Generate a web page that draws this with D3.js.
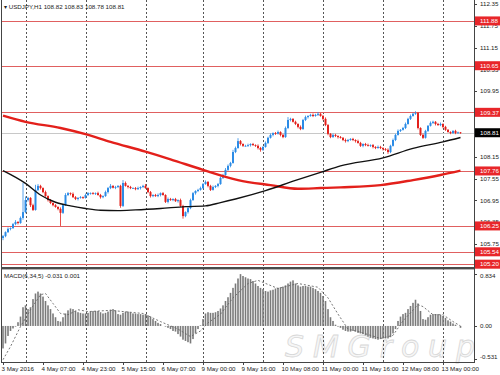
<!DOCTYPE html>
<html>
<head>
<meta charset="utf-8">
<script src="https://cdnjs.cloudflare.com/ajax/libs/d3/7.8.5/d3.min.js"></script>
<style>
  body { margin: 0; background: #fff; }
  svg { display: block; }
  text { font-family: "Liberation Sans", Arial, sans-serif; }
</style>
</head>
<body>
<script>
const firstOpen = 105.92;
const closes = [
  105.97,106.08,106.17,106.19,106.30,106.36,106.33,106.47,106.63,106.96,
  107.02,106.82,106.69,107.24,107.35,107.29,107.18,107.07,106.96,106.88,
  106.82,106.77,106.72,106.61,106.82,107.10,107.15,107.13,107.04,106.99,
  107.02,107.04,107.02,107.10,107.15,107.15,107.13,107.15,107.10,107.04,
  107.07,107.18,107.29,107.35,107.30,107.32,107.35,106.80,107.43,107.35,
  107.32,107.29,107.29,107.26,107.29,107.32,107.35,107.29,107.18,107.07,
  107.10,107.07,107.10,107.15,107.10,106.91,106.99,106.96,106.99,106.93,
  106.96,106.80,106.52,106.63,106.74,106.96,107.15,107.21,107.24,107.29,
  107.40,107.46,107.35,107.24,107.32,107.35,107.40,107.57,107.65,107.79,
  107.90,107.98,108.28,108.39,108.58,108.50,108.45,108.45,108.47,108.50,
  108.47,108.45,108.39,108.34,108.42,108.53,108.67,108.75,108.80,108.78,
  108.83,108.75,108.69,108.94,109.16,109.19,109.11,109.05,108.97,108.91,
  109.16,109.24,109.27,109.30,109.27,109.30,109.33,109.27,109.19,109.02,
  108.78,108.69,108.75,108.72,108.69,108.67,108.61,108.58,108.61,108.64,
  108.61,108.58,108.53,108.45,108.50,108.47,108.45,108.47,108.42,108.39,
  108.42,108.39,108.36,108.34,108.28,108.45,108.61,108.75,108.86,108.89,
  108.94,109.05,109.19,109.27,109.33,109.35,108.94,108.75,108.67,108.86,
  109.00,109.08,109.11,109.05,109.02,109.05,108.97,108.89,108.83,108.80,
  108.86,108.80,108.82,108.81
];
// wick length above / below the body, in pips (0.01)
const wickHi = [
  3,2,4,2,3,5,2,4,80,10,3,2,4,14,5,3,2,4,2,3,
  2,3,2,4,3,5,3,2,4,3,2,3,2,4,3,2,3,2,4,3,
  2,4,3,5,2,3,2,3,8,4,2,3,2,3,4,2,3,5,2,3,
  2,3,4,2,3,2,4,3,2,3,2,4,3,2,3,4,3,2,3,4,
  3,4,2,3,4,2,3,4,3,5,4,3,6,4,8,3,2,3,4,2,
  3,2,4,3,2,4,3,4,2,3,4,2,3,4,8,3,2,3,2,4,
  3,4,2,3,4,3,5,2,3,4,3,2,4,3,2,3,2,4,3,2,
  3,2,4,3,2,3,4,2,3,2,4,3,2,3,4,3,4,3,4,2,
  3,4,3,4,3,5,3,2,4,3,2,4,3,2,3,4,2,3,2,2,
  2,3,2,1
];
const wickLo = [
  6,3,2,4,2,3,4,2,5,3,4,5,3,2,3,4,3,2,4,3,
  3,2,4,36,3,2,3,4,2,3,4,2,3,2,3,4,2,3,2,4,
  3,2,4,3,2,4,3,5,3,2,4,3,2,3,2,4,3,2,3,4,
  3,2,3,4,2,3,4,2,3,2,4,3,7,3,4,3,2,4,3,2,
  3,2,4,3,2,3,4,2,3,2,3,4,2,3,2,4,3,2,3,4,
  2,3,4,5,3,2,3,2,4,3,2,4,3,2,3,4,2,3,4,3,
  2,3,4,2,3,2,3,2,4,3,4,3,2,3,4,2,3,4,3,2,
  3,4,2,3,4,3,2,3,4,3,2,3,4,3,5,3,2,3,2,3,
  2,3,2,3,2,3,4,3,3,2,3,2,3,4,2,3,4,3,2,3,
  2,3,2,3
];

// moving averages, read at bar indices
const redMaIdx = [0, 9, 23, 33, 43, 57, 67, 80, 94, 107, 118, 127, 135, 151, 164, 175, 183];
const redMaVal = [109.28, 109.11, 108.94, 108.77, 108.56, 108.29, 108.08, 107.79, 107.51, 107.37, 107.27, 107.29, 107.31, 107.37, 107.51, 107.65, 107.77];
const blackMaIdx = [0, 9, 15, 21, 27, 33, 39, 46, 53, 63, 73, 81, 87, 93, 105, 117, 127, 135, 152, 164, 176, 183];
const blackMaVal = [107.77, 107.42, 107.10, 106.90, 106.80, 106.73, 106.68, 106.67, 106.69, 106.73, 106.78, 106.80, 106.89, 106.99, 107.22, 107.50, 107.72, 107.90, 108.12, 108.38, 108.56, 108.68];

// MACD(6,34,5)
const macdHist = [
  -0.36,-0.28,-0.16,-0.08,-0.04,-0.01,0.06,0.15,0.30,0.33,
  0.27,0.30,0.43,0.52,0.55,0.52,0.47,0.40,0.33,0.27,
  0.20,0.14,0.08,0.07,0.14,0.20,0.25,0.28,0.27,0.24,
  0.22,0.21,0.20,0.20,0.21,0.23,0.24,0.24,0.24,0.22,
  0.20,0.21,0.23,0.26,0.27,0.25,0.19,0.18,0.21,0.23,
  0.23,0.22,0.20,0.20,0.19,0.19,0.18,0.19,0.17,0.15,
  0.11,0.08,0.05,0.03,0.00,-0.01,-0.03,-0.05,-0.08,-0.09,
  -0.13,-0.17,-0.22,-0.24,-0.26,-0.28,-0.21,-0.12,-0.05,0.01,
  0.11,0.20,0.22,0.21,0.21,0.22,0.24,0.28,0.33,0.40,
  0.46,0.53,0.61,0.68,0.76,0.83,0.80,0.78,0.76,0.75,
  0.72,0.68,0.64,0.61,0.59,0.56,0.55,0.57,0.58,0.60,
  0.61,0.62,0.63,0.65,0.68,0.71,0.73,0.68,0.65,0.63,
  0.64,0.64,0.63,0.63,0.61,0.59,0.56,0.53,0.48,0.40,
  0.27,0.14,0.08,0.02,-0.01,-0.03,-0.06,-0.08,-0.09,-0.09,
  -0.08,-0.09,-0.11,-0.12,-0.13,-0.15,-0.17,-0.19,-0.20,-0.21,
  -0.22,-0.21,-0.20,-0.20,-0.20,-0.18,-0.12,-0.05,0.08,0.15,
  0.19,0.21,0.27,0.32,0.37,0.42,0.36,0.24,0.11,0.10,
  0.14,0.18,0.19,0.19,0.19,0.18,0.16,0.13,0.09,0.07,
  0.04,0.02,0.00,-0.03
];
const signalIdx = [0, 3, 7, 11, 15, 17, 20, 23, 26, 30, 34, 43, 56, 63, 70, 75, 79, 82, 87, 92, 98, 102, 110, 118, 126, 130, 134, 138, 143, 151, 156, 160, 166, 168, 172, 176, 180, 183];
const signalVal = [-0.54, -0.33, -0.01, 0.26, 0.50, 0.52, 0.36, 0.20, 0.18, 0.26, 0.23, 0.25, 0.20, 0.07, -0.05, -0.17, -0.08, 0.05, 0.19, 0.45, 0.68, 0.73, 0.60, 0.68, 0.62, 0.45, 0.19, -0.05, -0.10, -0.20, -0.15, 0.08, 0.34, 0.31, 0.18, 0.18, 0.07, 0.00];

// horizontal levels and axis text
const levels = [111.88, 110.65, 109.37, 107.76, 106.25, 105.54, 105.20];
const bidPrice = 108.81;
const priceTicks = [112.35, 111.75, 111.15, 110.55, 109.95, 109.35, 108.75, 108.15, 107.55, 106.95, 106.35, 105.75, 105.15];
const macdTicks = [0.834, 0, -0.531];
const macdTickText = ["0.834", "0.00", "-0.531"];
const timeLabels = ["3 May 2016", "4 May 07:00", "4 May 23:00", "5 May 15:00", "6 May 07:00", "9 May 00:00",
                    "9 May 16:00", "10 May 08:00", "11 May 00:00", "11 May 16:00", "12 May 08:00", "13 May 00:00"];
const labelStep = 16;
const dayStarts = [9, 33, 57, 80, 104, 128, 152, 176];

const width = 500, height = 375;
const left = 2, right = 474;

const bars = closes.map((c, i) => {
  const o = i === 0 ? firstOpen : closes[i - 1];
  return { i, o, c, h: Math.max(o, c) + wickHi[i] / 100, l: Math.min(o, c) - wickLo[i] / 100 };
});

const x = d3.scaleLinear().domain([0, closes.length - 1]).range([3, 460.5]);
const y = d3.scaleLinear().domain([105.15, 112.40]).range([266, 2]);
const ym = d3.scaleLinear().domain([-0.577, 0.88]).range([362, 271]);

const svg = d3.select("body").append("svg")
  .attr("width", width)
  .attr("height", height);

svg.append("rect").attr("width", width).attr("height", height).attr("fill", "#fff");

// watermark
svg.append("text")
  .attr("x", 285).attr("y", 357)
  .attr("textLength", 190)
  .style("font-family", "DejaVu Sans")
  .style("font-size", "30px")
  .style("font-style", "italic")
  .attr("fill", "#f6f6f6")
  .attr("stroke", "#d8d8d8")
  .attr("stroke-width", 0.8)
  .text("SMGroup");

// vertical dotted grid at day starts
svg.append("g").selectAll("line")
  .data(dayStarts)
  .join("line")
    .attr("x1", d => Math.round(x(d)) + 0.5)
    .attr("x2", d => Math.round(x(d)) + 0.5)
    .attr("y1", 0)
    .attr("y2", 362)
    .attr("stroke", "#555")
    .attr("stroke-dasharray", "2,2");

// bid line and horizontal levels
svg.append("line")
  .attr("x1", left).attr("x2", right)
  .attr("y1", Math.round(y(bidPrice)) + 0.5).attr("y2", Math.round(y(bidPrice)) + 0.5)
  .attr("stroke", "#c8c8c8");

svg.append("g").selectAll("line")
  .data(levels)
  .join("line")
    .attr("x1", left).attr("x2", right)
    .attr("y1", d => Math.round(y(d)) + 0.5)
    .attr("y2", d => Math.round(y(d)) + 0.5)
    .attr("stroke", "#e06060");

// candles
const candles = svg.append("g").selectAll("g")
  .data(bars)
  .join("g")
    .attr("fill", d => d.c >= d.o ? "#2b8be6" : "#e3201b")
    .attr("stroke", d => d.c >= d.o ? "#2b8be6" : "#e3201b");

candles.append("line")
  .attr("x1", d => x(d.i)).attr("x2", d => x(d.i))
  .attr("y1", d => y(d.h)).attr("y2", d => y(d.l))
  .attr("stroke-width", 0.8);

candles.append("rect")
  .attr("x", d => x(d.i) - 1)
  .attr("width", 2)
  .attr("y", d => y(Math.max(d.o, d.c)))
  .attr("height", d => Math.max(0.8, Math.abs(y(d.o) - y(d.c))))
  .attr("stroke", "none");

// moving averages
const maLine = d3.line()
  .x(d => x(d[0]))
  .y(d => y(d[1]))
  .curve(d3.curveMonotoneX);

svg.append("path")
  .attr("d", maLine(d3.zip(redMaIdx, redMaVal)))
  .attr("fill", "none")
  .attr("stroke", "#e3201b")
  .attr("stroke-width", 2.4);

svg.append("path")
  .attr("d", maLine(d3.zip(blackMaIdx, blackMaVal)))
  .attr("fill", "none")
  .attr("stroke", "#111")
  .attr("stroke-width", 1.4);

// MACD histogram and signal
svg.append("g").selectAll("rect")
  .data(macdHist)
  .join("rect")
    .attr("x", (d, i) => x(i) - 0.8)
    .attr("width", 1.6)
    .attr("y", d => Math.min(ym(0), ym(d)))
    .attr("height", d => Math.abs(ym(d) - ym(0)))
    .attr("fill", "#7a7a7a");

svg.append("path")
  .attr("d", d3.line().x(d => x(d[0])).y(d => ym(d[1]))(d3.zip(signalIdx, signalVal)))
  .attr("fill", "none")
  .attr("stroke", "#666")
  .attr("stroke-width", 0.9)
  .attr("stroke-dasharray", "2,2");

// frame
svg.append("line").attr("x1", 1.5).attr("x2", 1.5).attr("y1", 0).attr("y2", 362).attr("stroke", "#444");
svg.append("line").attr("x1", right + 0.5).attr("x2", right + 0.5).attr("y1", 0).attr("y2", 363).attr("stroke", "#444");
svg.append("rect").attr("x", 1).attr("y", 267).attr("width", right - 1).attr("height", 2.4).attr("fill", "#4a4a4a");
svg.append("line").attr("x1", 1).attr("x2", right + 1).attr("y1", 362.5).attr("y2", 362.5).attr("stroke", "#444");

// price axis (labels sitting right under a price tag are hidden by it)
const axisText = 6.2;
const tagPrices = levels.concat([bidPrice]);
const shownTicks = priceTicks.filter(t => d3.min(tagPrices, v => Math.abs(y(v) - y(t))) > 3);
const pAxis = svg.append("g");
pAxis.selectAll("line")
  .data(priceTicks)
  .join("line")
    .attr("x1", right).attr("x2", right + 3)
    .attr("y1", d => Math.round(y(d)) + 0.5).attr("y2", d => Math.round(y(d)) + 0.5)
    .attr("stroke", "#444");
pAxis.selectAll("text")
  .data(shownTicks)
  .join("text")
    .attr("x", right + 6)
    .attr("y", d => y(d))
    .attr("dy", "0.35em")
    .style("font-size", axisText + "px")
    .attr("fill", "#222")
    .text(d => d.toFixed(2));

// macd axis
const mAxis = svg.append("g");
mAxis.selectAll("line")
  .data(macdTicks)
  .join("line")
    .attr("x1", right).attr("x2", right + 3)
    .attr("y1", d => Math.round(ym(d)) + 0.5).attr("y2", d => Math.round(ym(d)) + 0.5)
    .attr("stroke", "#444");
mAxis.selectAll("text")
  .data(macdTicks)
  .join("text")
    .attr("x", right + 6)
    .attr("y", d => Math.min(357, Math.max(276, ym(d))))
    .attr("dy", "0.35em")
    .style("font-size", axisText + "px")
    .attr("fill", "#222")
    .text((d, i) => macdTickText[i]);

// price tags for levels and bid
const tags = levels.map(v => ({ v, fill: "#e8262a" })).concat([{ v: bidPrice, fill: "#000" }]);
const tag = svg.append("g").selectAll("g")
  .data(tags)
  .join("g")
    .attr("transform", d => `translate(${right + 1},${y(d.v)})`);
tag.append("rect")
  .attr("x", 0).attr("y", -4.5)
  .attr("width", 25).attr("height", 9)
  .attr("fill", d => d.fill);
tag.append("text")
  .attr("x", 5).attr("dy", "0.35em")
  .style("font-size", axisText + "px")
  .attr("fill", "#fff")
  .text(d => d.v.toFixed(2));

// time axis
const tAxis = svg.append("g");
tAxis.selectAll("line")
  .data(timeLabels)
  .join("line")
    .attr("x1", (d, i) => Math.round(x(i * labelStep)) + 0.5)
    .attr("x2", (d, i) => Math.round(x(i * labelStep)) + 0.5)
    .attr("y1", 362).attr("y2", 365)
    .attr("stroke", "#444");
tAxis.selectAll("text")
  .data(timeLabels)
  .join("text")
    .attr("x", (d, i) => x(i * labelStep) - 1.5)
    .attr("y", 371)
    .style("font-size", axisText + "px")
    .attr("fill", "#222")
    .text(d => d);

// captions
svg.append("text")
  .attr("x", 4).attr("y", 8.5)
  .style("font-size", axisText + "px")
  .attr("fill", "#222")
  .text("\u25BE USDJPY,H1  108.82 108.83 108.78 108.81");

svg.append("text")
  .attr("x", 4).attr("y", 278)
  .style("font-size", axisText + "px")
  .attr("fill", "#222")
  .text("MACD(6,34,5) -0.031 0.001");
</script>
</body>
</html>
